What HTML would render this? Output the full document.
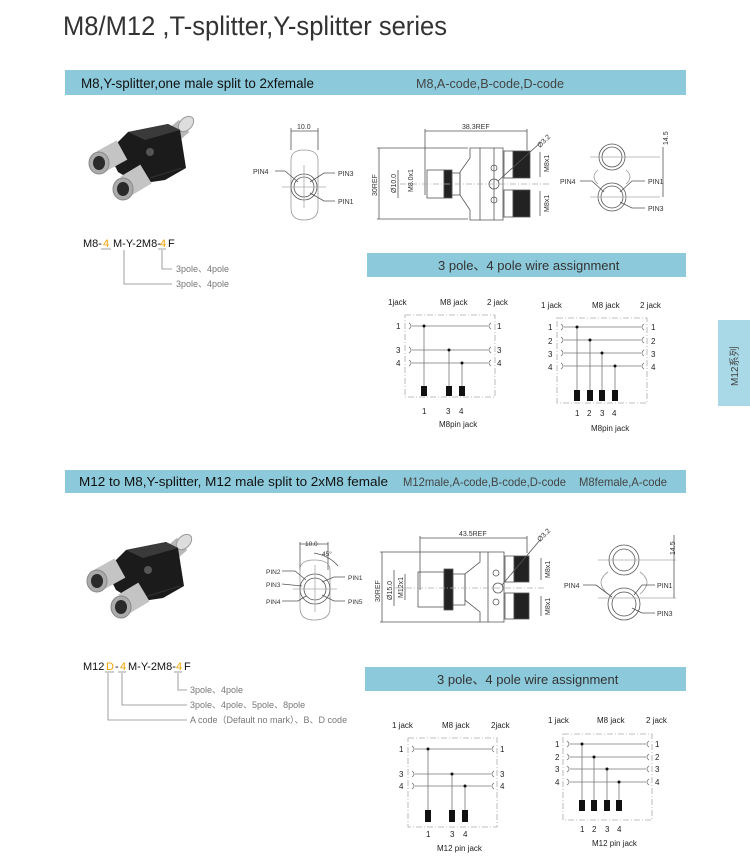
<!DOCTYPE html>
<html><head><meta charset="utf-8"><style>
html,body{margin:0;padding:0;background:#fff;}
svg{display:block;}
text{font-family:"Liberation Sans","Noto Sans CJK SC",sans-serif;}
</style></head><body>
<svg width="750" height="864" viewBox="0 0 750 864" xmlns="http://www.w3.org/2000/svg">
<defs>
<g id="photo">
  <line x1="170" y1="138" x2="184" y2="126" stroke="#b8b8b8" stroke-width="16"/>
  <ellipse cx="186" cy="124" rx="6" ry="9" transform="rotate(45 186 124)" fill="#ddd" stroke="#999" stroke-width="1"/>
  <polygon points="108,152 128,132 168,124 180,130 186,168 165,180 138,184 118,172" fill="#1b1b1b"/>
  <polygon points="128,132 168,124 180,130 145,140" fill="#3a3a3a"/>
  <line x1="150" y1="178" x2="182" y2="168" stroke="#333" stroke-width="1"/>
  <circle cx="150" cy="152" r="4" fill="#555"/>
  <line x1="122" y1="150" x2="102" y2="161" stroke="#c4c4c4" stroke-width="22"/>
  <ellipse cx="99" cy="163" rx="10" ry="11" fill="#aaa" stroke="#888" stroke-width="1"/>
  <ellipse cx="99" cy="163" rx="6" ry="7" fill="#2a2a2a"/>
  <line x1="146" y1="174" x2="126" y2="186" stroke="#c4c4c4" stroke-width="22"/>
  <ellipse cx="123" cy="189" rx="10" ry="11" fill="#aaa" stroke="#888" stroke-width="1"/>
  <ellipse cx="123" cy="189" rx="6" ry="7" fill="#2a2a2a"/>
</g>
</defs>

<text x="63" y="35" font-size="27" fill="#333" textLength="384" lengthAdjust="spacingAndGlyphs">M8/M12 ,T-splitter,Y-splitter series</text>

<!-- bar1 -->
<rect x="65" y="70" width="621" height="25" fill="#8ccadb"/>
<text x="81" y="88" font-size="14" fill="#111" textLength="233" lengthAdjust="spacingAndGlyphs">M8,Y-splitter,one male split to 2xfemale</text>
<text x="416" y="88" font-size="13" fill="#444" textLength="148" lengthAdjust="spacingAndGlyphs">M8,A-code,B-code,D-code</text>

<use href="#photo"/>
<use href="#photo" transform="translate(-2,418)"/>

<!-- code 1 -->
<g font-size="11" fill="#111">
<text x="83" y="247">M8-</text><text x="103" y="247" fill="#f3a100">4</text><text x="113" y="247">M-Y-2M8-</text><text x="160" y="247" fill="#f3a100">4</text><text x="168" y="247">F</text>
</g>
<g stroke="#888" fill="none" stroke-width="0.8">
<line x1="101" y1="249" x2="111" y2="249"/><line x1="158" y1="249" x2="166" y2="249"/>
<polyline points="162,250 162,269 172,269"/><polyline points="124,250 124,284 172,284"/>
</g>
<text x="176" y="272" font-size="9" fill="#777">3pole、4pole</text>
<text x="176" y="287" font-size="9" fill="#777">3pole、4pole</text>

<!-- drawing 1 front -->
<g stroke="#555" fill="none" stroke-width="0.8">
<line x1="291" y1="131" x2="318" y2="131"/><line x1="291" y1="128" x2="291" y2="150"/><line x1="318" y1="128" x2="318" y2="150"/>
<path d="M291,160 Q291,150 304,150 Q318,150 318,160 L318,208 Q318,220 304,220 Q291,220 291,208 Z" stroke="#999"/>
<circle cx="304" cy="187" r="13"/><circle cx="304" cy="187" r="10"/>
<line x1="282" y1="187" x2="326" y2="187" stroke="#aaa"/><line x1="304" y1="165" x2="304" y2="208" stroke="#aaa"/>
<polyline points="275,171 285,171 298,182"/><polyline points="335,173 324,173 310,182"/><polyline points="335,201 324,201 310,193"/>
</g>
<g font-size="7" fill="#333"><text x="297" y="129">10.0</text><text x="253" y="174">PIN4</text><text x="338" y="176">PIN3</text><text x="338" y="204">PIN1</text></g>

<!-- drawing 1 side -->
<g stroke="#555" fill="none" stroke-width="0.8">
<line x1="425" y1="131" x2="527" y2="131"/><line x1="425" y1="129" x2="425" y2="195"/><line x1="527" y1="129" x2="527" y2="150"/>
<line x1="379" y1="148" x2="379" y2="219"/><line x1="377" y1="148" x2="468" y2="148"/><line x1="377" y1="219" x2="468" y2="219"/>
<path d="M470,148 L503,148 L503,220 L470,220 L470,210 L460,195 L460,172 L470,158 Z"/>
<line x1="480" y1="148" x2="480" y2="220"/><line x1="494" y1="148" x2="494" y2="220"/>
<rect x="427" y="170" width="17" height="28"/>
<rect x="444" y="170" width="8" height="28" fill="#222"/>
<rect x="452" y="173" width="8" height="22"/>
<rect x="504" y="151" width="9" height="27"/><rect x="513" y="151" width="17" height="27" fill="#222"/>
<rect x="504" y="190" width="9" height="27"/><rect x="513" y="190" width="17" height="27" fill="#222"/>
<circle cx="494" cy="184" r="5"/><circle cx="494" cy="168" r="3"/><circle cx="494" cy="200" r="3"/>
<line x1="400" y1="184" x2="550" y2="184" stroke="#aaa" stroke-dasharray="6 2 1 2"/>
<line x1="398" y1="170" x2="398" y2="198"/><line x1="540" y1="152" x2="540" y2="177"/><line x1="540" y1="191" x2="540" y2="216"/>
<line x1="498" y1="181" x2="540" y2="143"/>
</g>
<g font-size="7" fill="#333"><text x="462" y="129">38.3REF</text>
<text transform="translate(377,196) rotate(-90)">30REF</text>
<text transform="translate(396,193) rotate(-90)">Ø10.0</text>
<text transform="translate(413,192) rotate(-90)">M8.0x1</text>
<text transform="translate(549,172) rotate(-90)">M8x1</text>
<text transform="translate(549,212) rotate(-90)">M8x1</text>
<text transform="translate(540,148) rotate(-45)">Ø3.2</text></g>

<!-- drawing 1 back -->
<g stroke="#555" fill="none" stroke-width="0.8">
<circle cx="612" cy="157" r="13"/><circle cx="612" cy="157" r="10"/>
<circle cx="612" cy="197" r="14"/><circle cx="612" cy="197" r="11"/>
<path d="M598,170 Q590,177 598,184" stroke="#999"/><path d="M626,170 Q634,177 626,184" stroke="#999"/>
<line x1="590" y1="157" x2="660" y2="157" stroke="#aaa"/><line x1="590" y1="197" x2="660" y2="197" stroke="#aaa"/>
<line x1="663" y1="147" x2="663" y2="197"/>
<polyline points="580,181 592,181 604,192"/><polyline points="645,181 632,181 620,192"/><polyline points="645,208 632,208 620,202"/>
</g>
<g font-size="7" fill="#333"><text x="560" y="184">PIN4</text><text x="648" y="184">PIN1</text><text x="648" y="211">PIN3</text>
<text transform="translate(668,145) rotate(-90)">14.5</text></g>

<!-- bar wire 1 -->
<rect x="367" y="253" width="319" height="24" fill="#8ccadb"/>
<text x="438" y="270" font-size="13" fill="#333">3 pole、4 pole wire assignment</text>

<!-- wiring diagrams -->
<g font-size="8" fill="#222">
<text x="388" y="305">1jack</text><text x="440" y="305">M8 jack</text><text x="487" y="305">2 jack</text>
<text x="396" y="329">1</text><text x="396" y="353">3</text><text x="396" y="366">4</text>
<text x="497" y="329">1</text><text x="497" y="353">3</text><text x="497" y="366">4</text>
<text x="422" y="414">1</text><text x="446" y="414">3</text><text x="459" y="414">4</text>
<text x="439" y="427">M8pin jack</text>

<text x="541" y="308">1 jack</text><text x="592" y="308">M8 jack</text><text x="640" y="308">2 jack</text>
<text x="548" y="330">1</text><text x="548" y="344">2</text><text x="548" y="357">3</text><text x="548" y="370">4</text>
<text x="651" y="330">1</text><text x="651" y="344">2</text><text x="651" y="357">3</text><text x="651" y="370">4</text>
<text x="575" y="416">1</text><text x="587" y="416">2</text><text x="600" y="416">3</text><text x="612" y="416">4</text>
<text x="591" y="431">M8pin jack</text>

<text x="392" y="728">1 jack</text><text x="442" y="728">M8 jack</text><text x="491" y="728">2jack</text>
<text x="399" y="752">1</text><text x="399" y="777">3</text><text x="399" y="789">4</text>
<text x="500" y="752">1</text><text x="500" y="777">3</text><text x="500" y="789">4</text>
<text x="426" y="837">1</text><text x="450" y="837">3</text><text x="463" y="837">4</text>
<text x="437" y="851">M12  pin jack</text>

<text x="548" y="723">1 jack</text><text x="597" y="723">M8 jack</text><text x="646" y="723">2 jack</text>
<text x="555" y="747">1</text><text x="555" y="760">2</text><text x="555" y="772">3</text><text x="555" y="785">4</text>
<text x="655" y="747">1</text><text x="655" y="760">2</text><text x="655" y="772">3</text><text x="655" y="785">4</text>
<text x="580" y="832">1</text><text x="592" y="832">2</text><text x="605" y="832">3</text><text x="617" y="832">4</text>
<text x="592" y="846">M12 pin jack</text>
</g>
<g stroke="#aaa" fill="none" stroke-width="0.8">
<rect x="405" y="315" width="90" height="82" stroke-dasharray="6 2 1 2"/>
<rect x="557" y="318" width="90" height="85" stroke-dasharray="6 2 1 2"/>
<rect x="408" y="738" width="89" height="89" stroke-dasharray="6 2 1 2"/>
<rect x="563" y="734" width="89" height="86" stroke-dasharray="6 2 1 2"/>
</g>
<g stroke="#777" fill="none" stroke-width="0.8">
<line x1="412" y1="326" x2="488" y2="326"/><line x1="412" y1="350" x2="488" y2="350"/><line x1="412" y1="363" x2="488" y2="363"/>
<line x1="424" y1="326" x2="424" y2="388"/><line x1="449" y1="350" x2="449" y2="388"/><line x1="462" y1="363" x2="462" y2="388"/>
<path d="M409,323 q4,3 0,6 M409,347 q4,3 0,6 M409,360 q4,3 0,6 M491,323 q-4,3 0,6 M491,347 q-4,3 0,6 M491,360 q-4,3 0,6"/>
<line x1="564" y1="327" x2="641" y2="327"/><line x1="564" y1="340" x2="641" y2="340"/><line x1="564" y1="353" x2="641" y2="353"/><line x1="564" y1="366" x2="641" y2="366"/>
<line x1="577" y1="327" x2="577" y2="392"/><line x1="590" y1="340" x2="590" y2="392"/><line x1="602" y1="353" x2="602" y2="392"/><line x1="615" y1="366" x2="615" y2="392"/>
<path d="M561,324 q4,3 0,6 M561,337 q4,3 0,6 M561,350 q4,3 0,6 M561,363 q4,3 0,6 M644,324 q-4,3 0,6 M644,337 q-4,3 0,6 M644,350 q-4,3 0,6 M644,363 q-4,3 0,6"/>
<line x1="415" y1="749" x2="491" y2="749"/><line x1="415" y1="774" x2="491" y2="774"/><line x1="415" y1="786" x2="491" y2="786"/>
<line x1="428" y1="749" x2="428" y2="812"/><line x1="452" y1="774" x2="452" y2="812"/><line x1="465" y1="786" x2="465" y2="812"/>
<path d="M412,746 q4,3 0,6 M412,771 q4,3 0,6 M412,783 q4,3 0,6 M494,746 q-4,3 0,6 M494,771 q-4,3 0,6 M494,783 q-4,3 0,6"/>
<line x1="570" y1="744" x2="646" y2="744"/><line x1="570" y1="757" x2="646" y2="757"/><line x1="570" y1="769" x2="646" y2="769"/><line x1="570" y1="782" x2="646" y2="782"/>
<line x1="582" y1="744" x2="582" y2="801"/><line x1="594" y1="757" x2="594" y2="801"/><line x1="607" y1="769" x2="607" y2="801"/><line x1="619" y1="782" x2="619" y2="801"/>
<path d="M567,741 q4,3 0,6 M567,754 q4,3 0,6 M567,766 q4,3 0,6 M567,779 q4,3 0,6 M649,741 q-4,3 0,6 M649,754 q-4,3 0,6 M649,766 q-4,3 0,6 M649,779 q-4,3 0,6"/>
</g>
<g fill="#111">
<circle cx="424" cy="326" r="1.5"/><circle cx="449" cy="350" r="1.5"/><circle cx="462" cy="363" r="1.5"/>
<rect x="421" y="386" width="6" height="10"/><rect x="446" y="386" width="6" height="10"/><rect x="459" y="386" width="6" height="10"/>
<circle cx="577" cy="327" r="1.5"/><circle cx="590" cy="340" r="1.5"/><circle cx="602" cy="353" r="1.5"/><circle cx="615" cy="366" r="1.5"/>
<rect x="574" y="390" width="6" height="11"/><rect x="587" y="390" width="6" height="11"/><rect x="599" y="390" width="6" height="11"/><rect x="612" y="390" width="6" height="11"/>
<circle cx="428" cy="749" r="1.5"/><circle cx="452" cy="774" r="1.5"/><circle cx="465" cy="786" r="1.5"/>
<rect x="425" y="810" width="6" height="12"/><rect x="449" y="810" width="6" height="12"/><rect x="462" y="810" width="6" height="12"/>
<circle cx="582" cy="744" r="1.5"/><circle cx="594" cy="757" r="1.5"/><circle cx="607" cy="769" r="1.5"/><circle cx="619" cy="782" r="1.5"/>
<rect x="579" y="800" width="6" height="11"/><rect x="591" y="800" width="6" height="11"/><rect x="604" y="800" width="6" height="11"/><rect x="616" y="800" width="6" height="11"/>
</g>

<!-- side tab -->
<rect x="718" y="320" width="32" height="86" fill="#a9d8e6"/>
<text transform="translate(738,386) rotate(-90)" font-size="10" fill="#444">M12系列</text>

<!-- bar2 -->
<rect x="65" y="470" width="621" height="23" fill="#8ccadb"/>
<text x="79" y="486" font-size="13" fill="#111" textLength="309" lengthAdjust="spacingAndGlyphs">M12 to M8,Y-splitter, M12 male split to 2xM8 female</text>
<text x="403" y="486" font-size="12" fill="#444" textLength="163" lengthAdjust="spacingAndGlyphs">M12male,A-code,B-code,D-code</text>
<text x="579" y="486" font-size="12" fill="#444" textLength="88" lengthAdjust="spacingAndGlyphs">M8female,A-code</text>

<!-- code 2 -->
<g font-size="11" fill="#111">
<text x="83" y="670">M12</text><text x="106" y="670" fill="#f3a100">D</text><text x="115" y="670">-</text><text x="120" y="670" fill="#f3a100">4</text><text x="128" y="670">M-Y-2M8-</text><text x="176" y="670" fill="#f3a100">4</text><text x="184" y="670">F</text>
</g>
<g stroke="#888" fill="none" stroke-width="0.8">
<line x1="105" y1="672" x2="114" y2="672"/><line x1="118" y1="672" x2="126" y2="672"/><line x1="174" y1="672" x2="182" y2="672"/>
<polyline points="178,673 178,690 187,690"/><polyline points="122,673 122,705 187,705"/><polyline points="108,673 108,720 187,720"/>
</g>
<g font-size="9" fill="#777">
<text x="190" y="693">3pole、4pole</text>
<text x="190" y="708">3pole、4pole、5pole、8pole</text>
<text x="190" y="723">A code（Default no mark）、B、D code</text>
</g>

<!-- drawing 2 front -->
<g stroke="#555" fill="none" stroke-width="0.8">
<line x1="300" y1="544" x2="328" y2="544"/><line x1="300" y1="542" x2="300" y2="570"/><line x1="328" y1="542" x2="328" y2="570"/>
<path d="M314,553 Q330,556 338,566"/>
<path d="M300,570 Q300,560 314,560 Q330,560 330,570 L330,608 Q330,620 314,620 Q300,620 300,608 Z" stroke="#999"/>
<circle cx="315" cy="589" r="15"/><circle cx="315" cy="589" r="11"/>
<line x1="293" y1="589" x2="337" y2="589" stroke="#aaa"/><line x1="315" y1="565" x2="315" y2="612" stroke="#aaa"/>
<polyline points="282,571 295,571 306,580"/><polyline points="282,584 302,586"/><polyline points="282,601 298,601 306,596"/>
<polyline points="345,577 334,577 322,582"/><polyline points="345,601 334,601 322,595"/>
</g>
<g font-size="6.5" fill="#333"><text x="305" y="546">10.0</text><text x="322" y="556">45°</text>
<text x="266" y="574">PIN2</text><text x="266" y="587">PIN3</text><text x="266" y="604">PIN4</text><text x="348" y="580">PIN1</text><text x="348" y="604">PIN5</text></g>

<!-- drawing 2 side -->
<g stroke="#555" fill="none" stroke-width="0.8">
<line x1="420" y1="538" x2="527" y2="538"/><line x1="420" y1="536" x2="420" y2="590"/><line x1="527" y1="536" x2="527" y2="553"/>
<line x1="382" y1="552" x2="382" y2="622"/><line x1="380" y1="552" x2="480" y2="552"/><line x1="380" y1="622" x2="480" y2="622"/>
<path d="M480,552 L504,552 L504,622 L480,622 L480,612 L465,600 L465,574 L480,562 Z"/>
<line x1="488" y1="552" x2="488" y2="622"/>
<rect x="418" y="572" width="26" height="35"/>
<rect x="444" y="569" width="9" height="41" fill="#222"/>
<rect x="453" y="574" width="12" height="31"/>
<rect x="505" y="556" width="9" height="26"/><rect x="514" y="556" width="15" height="26" fill="#222"/>
<rect x="505" y="593" width="9" height="26"/><rect x="514" y="593" width="15" height="26" fill="#222"/>
<circle cx="498" cy="588" r="5"/><circle cx="496" cy="573" r="3"/><circle cx="496" cy="602" r="3"/>
<line x1="395" y1="588" x2="545" y2="588" stroke="#aaa" stroke-dasharray="6 2 1 2"/>
<line x1="394" y1="570" x2="394" y2="606"/><line x1="405" y1="574" x2="405" y2="600"/>
<line x1="541" y1="558" x2="541" y2="580"/><line x1="541" y1="596" x2="541" y2="616"/>
<line x1="502" y1="585" x2="540" y2="540"/>
</g>
<g font-size="7" fill="#333"><text x="459" y="536">43.5REF</text>
<text transform="translate(380,602) rotate(-90)">30REF</text>
<text transform="translate(392,600) rotate(-90)">Ø15.0</text>
<text transform="translate(403,598) rotate(-90)">M12x1</text>
<text transform="translate(550,578) rotate(-90)">M8x1</text>
<text transform="translate(550,615) rotate(-90)">M8x1</text>
<text transform="translate(540,542) rotate(-45)">Ø3.2</text></g>

<!-- drawing 2 back -->
<g stroke="#555" fill="none" stroke-width="0.8">
<circle cx="624" cy="560" r="15"/><circle cx="624" cy="560" r="11"/>
<circle cx="624" cy="604" r="16"/><circle cx="624" cy="604" r="12"/>
<path d="M608,572 Q594,582 608,594" stroke="#999"/><path d="M640,572 Q654,582 640,594" stroke="#999"/>
<line x1="598" y1="560" x2="676" y2="560" stroke="#aaa"/><line x1="598" y1="598" x2="676" y2="598" stroke="#aaa"/>
<line x1="674" y1="535" x2="674" y2="598"/>
<polyline points="583,585 596,585 612,597"/><polyline points="655,585 642,585 634,595"/><polyline points="655,613 642,613 632,608"/>
</g>
<g font-size="7" fill="#333"><text x="564" y="588">PIN4</text><text x="657" y="588">PIN1</text><text x="657" y="616">PIN3</text>
<text transform="translate(675,555) rotate(-90)">14.5</text></g>

<!-- bar wire 2 -->
<rect x="365" y="667" width="321" height="24" fill="#8ccadb"/>
<text x="437" y="684" font-size="13" fill="#333">3 pole、4 pole wire assignment</text>
</svg>
</body></html>
